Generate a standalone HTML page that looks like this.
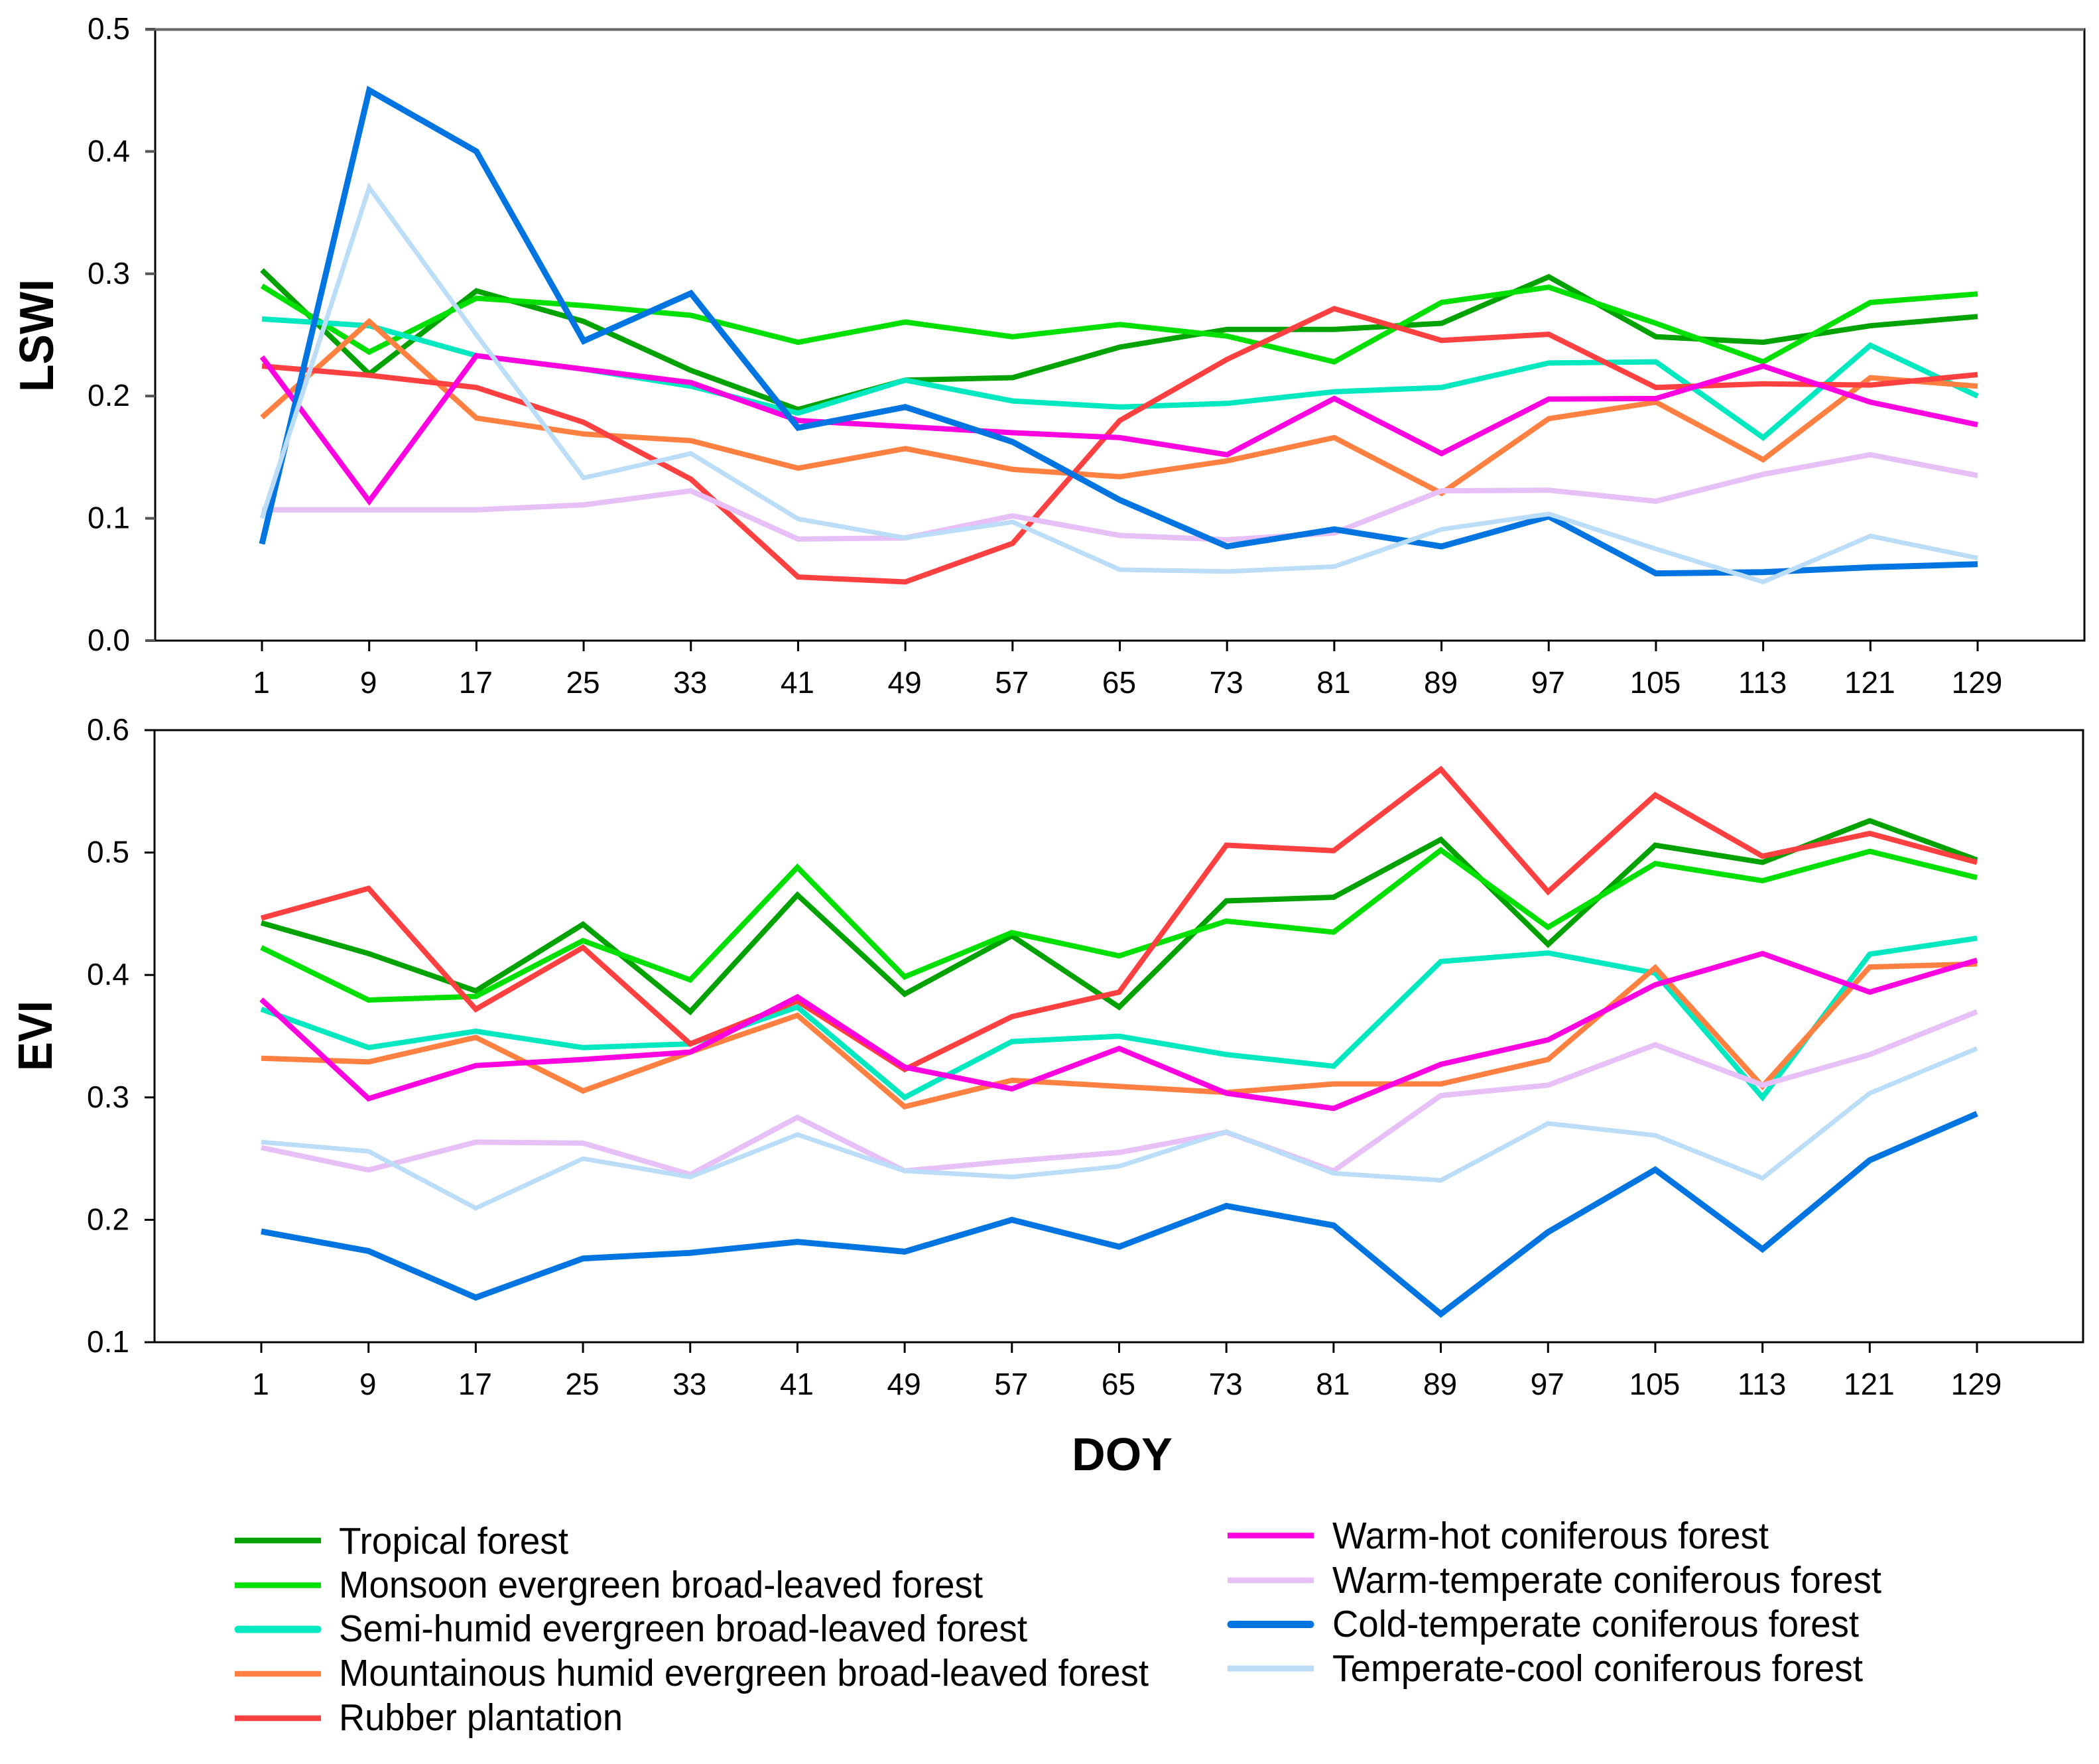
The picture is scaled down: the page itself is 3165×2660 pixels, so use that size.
<!DOCTYPE html>
<html lang="en">
<head>
<meta charset="utf-8">
<title>LSWI and EVI by DOY</title>
<style>
  html, body { margin: 0; padding: 0; background: #fff; width: 3165px; height: 2660px; overflow: hidden; }
  svg { display: block; font-family: "Liberation Sans", Arial, sans-serif; }
  .tick-label { font-size: 46px; fill: #000; }
  .axis-title { font-size: 72px; font-weight: bold; fill: #000; }
  .legend-text { font-size: 57px; fill: #000; }
  .frame { fill: none; stroke: #000; stroke-width: 3; }
  .tick { stroke: #000; stroke-width: 3; }
  .tick-gray { stroke: #555; stroke-width: 4; }
  .series { fill: none; stroke-width: 8; stroke-linejoin: miter; stroke-miterlimit: 10; }
  .legend-line { stroke-width: 8.5; }
  .legend-line-round { stroke-width: 11; stroke-linecap: round; }
  .s-tropical { stroke: #00A200; }
  .s-monsoon { stroke: #00E000; }
  .s-semihumid { stroke: #00E8C0; }
  .s-mountainous { stroke: #FF8040; }
  .s-rubber { stroke: #FF4040; }
  .s-warmhot { stroke: #FF00E0; }
  .s-warmtemperate { stroke: #E6C0F6; }
  .s-cold { stroke: #0074E0; stroke-width: 9; }
  .s-temperatecool { stroke: #BBDDF8; stroke-width: 7; }
</style>
</head>
<body>
<svg id="chart" xmlns="http://www.w3.org/2000/svg" width="3165" height="2660" viewBox="0 0 3165 2660">
  <rect x="0" y="0" width="3165" height="2660" fill="#fff"/>

  <g id="lswi-panel">
    <rect class="frame" x="234" y="44" width="2909" height="922"/>
    <line x1="219" y1="44.5" x2="3143" y2="44.5" stroke="#666" stroke-width="4"/>
  </g>
  <g id="evi-panel">
    <rect class="frame" x="233" y="1101" width="2908" height="923"/>
  </g>

  <text class="axis-title" transform="translate(80,506) rotate(-90)" text-anchor="middle" textLength="170" lengthAdjust="spacingAndGlyphs">LSWI</text>
  <text class="axis-title" transform="translate(78,1562) rotate(-90)" text-anchor="middle" textLength="106" lengthAdjust="spacingAndGlyphs">EVI</text>
  <text class="axis-title" x="1692" y="2217" text-anchor="middle" style="font-size:70px">DOY</text>

  <g>
    <g>
      <line class="legend-line s-tropical" x1="354" y1="2323" x2="484" y2="2323"/>
      <text class="legend-text" x="511" y="2343" textLength="346" lengthAdjust="spacingAndGlyphs">Tropical forest</text>
    </g>
    <g>
      <line class="legend-line s-monsoon" x1="354" y1="2390.5" x2="484" y2="2390.5"/>
      <text class="legend-text" x="511" y="2409" textLength="971" lengthAdjust="spacingAndGlyphs">Monsoon evergreen broad-leaved forest</text>
    </g>
    <g>
      <line class="legend-line legend-line-round s-semihumid" x1="359" y1="2457" x2="479" y2="2457"/>
      <text class="legend-text" x="511" y="2475" textLength="1038" lengthAdjust="spacingAndGlyphs">Semi-humid evergreen broad-leaved forest</text>
    </g>
    <g>
      <line class="legend-line s-mountainous" x1="354" y1="2524" x2="484" y2="2524"/>
      <text class="legend-text" x="511" y="2542" textLength="1221" lengthAdjust="spacingAndGlyphs">Mountainous humid evergreen broad-leaved forest</text>
    </g>
    <g>
      <line class="legend-line s-rubber" x1="354" y1="2591" x2="484" y2="2591"/>
      <text class="legend-text" x="511" y="2609" textLength="428" lengthAdjust="spacingAndGlyphs">Rubber plantation</text>
    </g>
  </g>

  <g>
    <g>
      <line class="legend-line s-warmhot" x1="1851" y1="2315.5" x2="1981" y2="2315.5"/>
      <text class="legend-text" x="2009" y="2335" textLength="658" lengthAdjust="spacingAndGlyphs">Warm-hot coniferous forest</text>
    </g>
    <g>
      <line class="legend-line s-warmtemperate" x1="1851" y1="2383" x2="1981" y2="2383"/>
      <text class="legend-text" x="2009" y="2402" textLength="828" lengthAdjust="spacingAndGlyphs">Warm-temperate coniferous forest</text>
    </g>
    <g>
      <line class="legend-line legend-line-round s-cold" x1="1856" y1="2449.5" x2="1976" y2="2449.5" style="stroke-width:11"/>
      <text class="legend-text" x="2009" y="2468" textLength="794" lengthAdjust="spacingAndGlyphs">Cold-temperate coniferous forest</text>
    </g>
    <g>
      <line class="legend-line s-temperatecool" x1="1851" y1="2516" x2="1981" y2="2516" style="stroke-width:9"/>
      <text class="legend-text" x="2009" y="2535" textLength="800" lengthAdjust="spacingAndGlyphs">Temperate-cool coniferous forest</text>
    </g>
  </g>
</svg>

<script>
const doyCategories = [1, 9, 17, 25, 33, 41, 49, 57, 65, 73, 81, 89, 97, 105, 113, 121, 129];
const seriesKeys = ['tropical', 'monsoon', 'semihumid', 'mountainous', 'rubber', 'warmhot', 'warmtemperate', 'cold', 'temperatecool'];
const lswiTickValues = [0.0, 0.1, 0.2, 0.3, 0.4, 0.5];
const eviTickValues = [0.1, 0.2, 0.3, 0.4, 0.5, 0.6];

const lswiTropical = [0.303, 0.218, 0.286, 0.261, 0.221, 0.189, 0.213, 0.215, 0.240, 0.2545, 0.2545, 0.2595, 0.2975, 0.2485, 0.244, 0.2575, 0.265];
const lswiMonsoon = [0.290, 0.236, 0.280, 0.274, 0.266, 0.244, 0.2605, 0.2485, 0.2585, 0.249, 0.228, 0.2765, 0.289, 0.2595, 0.228, 0.2765, 0.2835];
const lswiSemiHumid = [0.263, 0.2575, 0.233, 0.222, 0.208, 0.186, 0.213, 0.196, 0.191, 0.194, 0.2035, 0.207, 0.227, 0.228, 0.166, 0.2415, 0.200];
const lswiMountainous = [0.1825, 0.261, 0.182, 0.169, 0.1635, 0.141, 0.157, 0.140, 0.134, 0.147, 0.166, 0.1205, 0.1815, 0.195, 0.148, 0.215, 0.208];
const lswiRubber = [0.2245, 0.217, 0.207, 0.1785, 0.132, 0.052, 0.048, 0.0795, 0.180, 0.230, 0.2715, 0.2455, 0.2505, 0.207, 0.210, 0.209, 0.2175];
const lswiWarmHot = [0.232, 0.114, 0.233, 0.222, 0.211, 0.180, 0.175, 0.170, 0.166, 0.152, 0.198, 0.153, 0.1975, 0.198, 0.2245, 0.195, 0.1765];
const lswiWarmTemperate = [0.107, 0.107, 0.107, 0.111, 0.1225, 0.083, 0.084, 0.102, 0.086, 0.0825, 0.088, 0.1225, 0.123, 0.114, 0.136, 0.152, 0.135];
const lswiCold = [0.079, 0.450, 0.400, 0.245, 0.284, 0.174, 0.191, 0.1625, 0.115, 0.077, 0.091, 0.077, 0.1015, 0.055, 0.056, 0.060, 0.0625];
const lswiTemperateCool = [0.100, 0.3705, 0.250, 0.133, 0.153, 0.0995, 0.084, 0.097, 0.058, 0.0565, 0.0605, 0.091, 0.1035, 0.075, 0.048, 0.0855, 0.0675];

const eviTropical = [0.4426, 0.4175, 0.387, 0.4414, 0.370, 0.4654, 0.3844, 0.432, 0.3738, 0.4605, 0.4635, 0.5106, 0.425, 0.506, 0.492, 0.526, 0.494];
const eviMonsoon = [0.4224, 0.3795, 0.3825, 0.428, 0.396, 0.488, 0.3985, 0.4346, 0.4156, 0.444, 0.435, 0.502, 0.439, 0.491, 0.477, 0.501, 0.4795];
const eviSemiHumid = [0.372, 0.3407, 0.354, 0.3407, 0.3437, 0.3738, 0.300, 0.3456, 0.350, 0.335, 0.3255, 0.411, 0.418, 0.4015, 0.300, 0.417, 0.430];
const eviMountainous = [0.332, 0.329, 0.349, 0.3053, 0.337, 0.367, 0.2924, 0.314, 0.309, 0.304, 0.311, 0.311, 0.331, 0.406, 0.309, 0.4065, 0.409];
const eviRubber = [0.4464, 0.4707, 0.372, 0.4224, 0.3437, 0.3787, 0.3228, 0.366, 0.386, 0.506, 0.5015, 0.568, 0.468, 0.547, 0.497, 0.5156, 0.492];
const eviWarmHot = [0.380, 0.299, 0.326, 0.331, 0.337, 0.382, 0.3247, 0.307, 0.340, 0.3034, 0.291, 0.327, 0.347, 0.392, 0.4175, 0.386, 0.412];
const eviWarmTemperate = [0.259, 0.2407, 0.2635, 0.2627, 0.237, 0.2837, 0.240, 0.248, 0.255, 0.2715, 0.240, 0.3015, 0.310, 0.343, 0.310, 0.335, 0.370];
const eviCold = [0.1905, 0.1745, 0.1365, 0.1684, 0.173, 0.182, 0.174, 0.200, 0.178, 0.2114, 0.1954, 0.123, 0.190, 0.241, 0.176, 0.2487, 0.2867];
const eviTemperateCool = [0.2635, 0.256, 0.2095, 0.250, 0.235, 0.2696, 0.240, 0.235, 0.2437, 0.272, 0.238, 0.2323, 0.2787, 0.269, 0.234, 0.3034, 0.340];

const lswiValues = [lswiTropical, lswiMonsoon, lswiSemiHumid, lswiMountainous, lswiRubber, lswiWarmHot, lswiWarmTemperate, lswiCold, lswiTemperateCool];
const eviValues = [eviTropical, eviMonsoon, eviSemiHumid, eviMountainous, eviRubber, eviWarmHot, eviWarmTemperate, eviCold, eviTemperateCool];

const SVG_NS = 'http://www.w3.org/2000/svg';

function linearScale(d0, d1, r0, r1) {
  return function (v) { return r0 + (v - d0) / (d1 - d0) * (r1 - r0); };
}

function drawPanel(groupId, prefix, opts, ticks, valuesList) {
  const group = document.getElementById(groupId);
  const xScale = linearScale(doyCategories[0], doyCategories[doyCategories.length - 1], opts.x0, opts.x1);
  const yScale = linearScale(ticks[0], ticks[ticks.length - 1], opts.yBottom, opts.yTop);

  ticks.forEach(function (t) {
    const y = yScale(t);
    const tick = document.createElementNS(SVG_NS, 'line');
    tick.setAttribute('class', opts.yTickClass);
    
    
    tick.setAttribute('x1', opts.left - 15);
    tick.setAttribute('x2', opts.left);
    tick.setAttribute('y1', y);
    tick.setAttribute('y2', y);
    group.appendChild(tick);

    const label = document.createElementNS(SVG_NS, 'text');
    label.setAttribute('class', 'tick-label');
    
    
    label.setAttribute('x', opts.left - 38);
    label.setAttribute('y', y + 15);
    label.setAttribute('text-anchor', 'end');
    label.textContent = t.toFixed(1);
    group.appendChild(label);
  });

  doyCategories.forEach(function (d) {
    const x = xScale(d);
    const tick = document.createElementNS(SVG_NS, 'line');
    tick.setAttribute('class', 'tick');
    
    
    tick.setAttribute('x1', x);
    tick.setAttribute('x2', x);
    tick.setAttribute('y1', opts.yBottom);
    tick.setAttribute('y2', opts.yBottom + 16);
    group.appendChild(tick);

    const label = document.createElementNS(SVG_NS, 'text');
    label.setAttribute('class', 'tick-label');
    
    
    label.setAttribute('x', x - 1);
    label.setAttribute('y', opts.yBottom + 79);
    label.setAttribute('text-anchor', 'middle');
    label.textContent = String(d);
    group.appendChild(label);
  });

  valuesList.forEach(function (vals, i) {
    const pts = vals.map(function (v, j) {
      return xScale(doyCategories[j]).toFixed(1) + ',' + yScale(v).toFixed(1);
    }).join(' ');
    const line = document.createElementNS(SVG_NS, 'polyline');
    line.setAttribute('class', 'series s-' + seriesKeys[i]);
    
    
    line.setAttribute('points', pts);
    group.appendChild(line);
  });
}

drawPanel('lswi-panel', 'lswi', { left: 234, x0: 395, x1: 2982, yTop: 44, yBottom: 966, yTickClass: 'tick-gray' }, lswiTickValues, lswiValues);
drawPanel('evi-panel', 'evi', { left: 233, x0: 394, x1: 2981, yTop: 1101, yBottom: 2024, yTickClass: 'tick' }, eviTickValues, eviValues);
</script>
</body>
</html>
